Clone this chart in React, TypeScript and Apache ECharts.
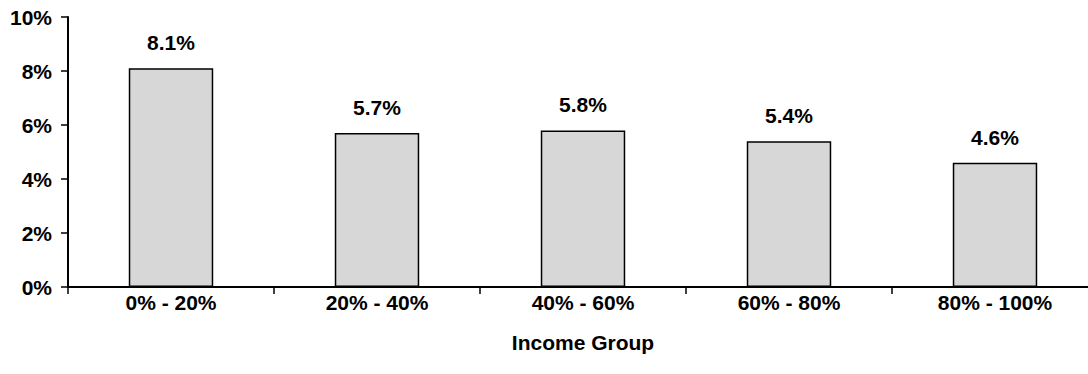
import React, { useEffect, useRef } from "react";
import * as echarts from "echarts";

const categories = ["0% - 20%", "20% - 40%", "40% - 60%", "60% - 80%", "80% - 100%"];
const values = [8.1, 5.7, 5.8, 5.4, 4.6];
const xAxisTitle = "Income Group";

export default function App() {
  const ref = useRef<HTMLDivElement>(null);
  useEffect(() => {
    document.body.style.margin = "0";
    document.body.style.overflow = "hidden";
    if (!ref.current) return;
    const chart = echarts.init(ref.current, null, { renderer: "svg" });
    const font = "'Liberation Sans', Arial, sans-serif";
    chart.setOption({
      animation: false,
      textStyle: { fontFamily: font },
      grid: { left: 68, right: 2, top: 17, bottom: 87, containLabel: false, outerBoundsMode: "none" },
      xAxis: {
        type: "category",
        data: categories,
        name: xAxisTitle,
        nameLocation: "middle",
        nameGap: 45,
        nameTextStyle: { fontFamily: font, fontWeight: "bold", fontSize: 21, color: "#000" },
        axisLine: { lineStyle: { color: "#000", width: 2 } },
        axisTick: { show: true, length: 7, lineStyle: { color: "#000", width: 1.5 } },
        axisLabel: { fontFamily: font, fontWeight: "bold", fontSize: 21, color: "#000", margin: 5 },
      },
      yAxis: {
        type: "value",
        min: 0,
        max: 10,
        interval: 2,
        axisLine: { show: true, lineStyle: { color: "#000", width: 2 } },
        axisTick: { show: true, inside: false, length: 7, lineStyle: { color: "#000", width: 1.5 } },
        splitLine: { show: false },
        axisLabel: {
          fontFamily: font,
          fontWeight: "bold",
          fontSize: 21,
          color: "#000",
          margin: 16,
          formatter: (v: number) => `${v}%`,
        },
      },
      series: [
        {
          type: "bar",
          data: values,
          barCategoryGap: "59%",
          itemStyle: { color: "#d7d7d7", borderColor: "#000", borderWidth: 1.5 },
          label: {
            show: true,
            position: "top",
            distance: 15,
            fontFamily: font,
            fontWeight: "bold",
            fontSize: 21,
            color: "#000",
            formatter: (p: any) => `${p.value.toFixed(1)}%`,
          },
        },
      ],
    });
    return () => chart.dispose();
  }, []);
  return (
    <div style={{ width: 1088, height: 374, overflow: "hidden" }}>
      <div ref={ref} style={{ width: 1100, height: 374 }} />
    </div>
  );
}
